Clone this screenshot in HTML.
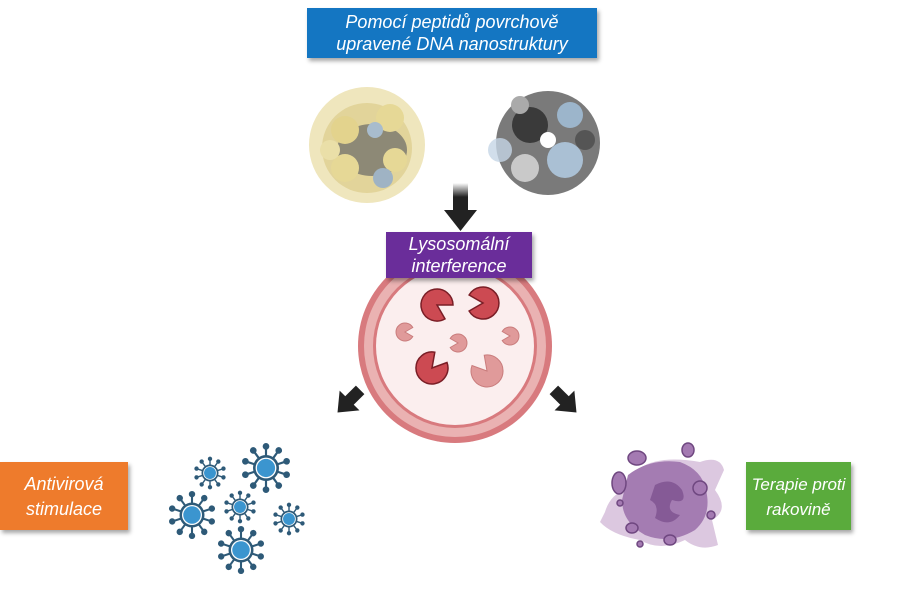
<!DOCTYPE html>
<html><head><meta charset="utf-8"><style>
body{margin:0;width:900px;height:599px;background:#fff;overflow:hidden;position:relative;font-family:"Liberation Sans",sans-serif}
.box{position:absolute;color:#fff;font-style:italic;text-align:center;line-height:22px;font-size:19px;box-shadow:2px 3px 4px rgba(0,0,0,.35)}
svg{position:absolute;left:0;top:0}
</style></head><body>
<svg width="900" height="599" viewBox="0 0 900 599">
<defs>
<symbol id="v" viewBox="-30 -30 60 60">
<g stroke="#2e5a78" stroke-width="2.5" fill="#2e5a78">
<g id="sp"><line x1="0" y1="-14" x2="0" y2="-24"/><circle cx="0" cy="-25" r="2.6"/></g>
<use href="#sp" transform="rotate(36)"/><use href="#sp" transform="rotate(72)"/><use href="#sp" transform="rotate(108)"/><use href="#sp" transform="rotate(144)"/><use href="#sp" transform="rotate(180)"/><use href="#sp" transform="rotate(216)"/><use href="#sp" transform="rotate(252)"/><use href="#sp" transform="rotate(288)"/><use href="#sp" transform="rotate(324)"/>
</g>
<circle r="15" fill="#2e5a78"/><circle r="12" fill="#fff"/><circle r="10.5" fill="#3b95cf"/>
</symbol>
<linearGradient id="ga" x1="0" y1="0" x2="0" y2="1"><stop offset="0" stop-color="#fff"/><stop offset=".5" stop-color="#222"/></linearGradient>
<g id="darr"><rect x="-6" y="-20" width="12" height="16" fill="#222"/><polygon points="-14,-5 14,-5 0,12" fill="#222"/></g>
</defs>
<!-- nanostructures -->
<g>
<circle cx="367" cy="145" r="58" fill="#efe6bd"/>
<circle cx="367" cy="148" r="45" fill="#e2d49a"/>
<ellipse cx="372" cy="150" rx="35" ry="26" fill="#6a6a66" opacity=".7"/>
<circle cx="345" cy="130" r="14" fill="#e3d38d"/>
<circle cx="390" cy="118" r="14" fill="#e6d896"/>
<circle cx="345" cy="168" r="14" fill="#e6d896"/>
<circle cx="395" cy="160" r="12" fill="#e6d896"/>
<circle cx="383" cy="178" r="10" fill="#9fb3c4"/>
<circle cx="375" cy="130" r="8" fill="#a8bccd"/>
<circle cx="330" cy="150" r="10" fill="#eadfa8"/>
<circle cx="548" cy="143" r="52" fill="#7a7a7a"/>
<circle cx="530" cy="125" r="18" fill="#3a3a3a"/>
<circle cx="565" cy="160" r="18" fill="#aac0d4"/>
<circle cx="525" cy="168" r="14" fill="#c9c9c9"/>
<circle cx="570" cy="115" r="13" fill="#9cb5cb"/>
<circle cx="500" cy="150" r="12" fill="#c5d6e6" opacity=".8"/>
<circle cx="548" cy="140" r="8" fill="#fff"/>
<circle cx="585" cy="140" r="10" fill="#555"/>
<circle cx="520" cy="105" r="9" fill="#aaa"/>
</g>
<!-- down arrow -->
<rect x="453" y="183" width="15" height="28" fill="url(#ga)"/>
<polygon points="444,210 477,210 460.5,231" fill="#222"/>
<!-- lysosome -->
<circle cx="455" cy="346" r="97" fill="#d87a7e"/>
<circle cx="455" cy="346" r="91" fill="#eab2b2"/>
<circle cx="455" cy="346" r="82" fill="#d87a7e"/>
<circle cx="455" cy="346" r="79" fill="#fbeeee"/>
<g stroke="#7a1e26" stroke-width="1.5" fill="#cc4a52">
<path d="M437,305 L453,305 A16,16 0 1 0 445,318.9 Z"/>
<path d="M483,303 L469.1,311 A16,16 0 1 0 469.1,295 Z"/>
<path d="M432,368 L434.8,352.2 A16,16 0 1 0 447,362.5 Z"/>
</g>
<g fill="#e09a9a" stroke="#c97c7c" stroke-width="1">
<path d="M487,371 L472,365.5 A16,16 0 1 0 484.2,355.2 Z"/>
<path d="M405,332 L412.8,327.5 A9,9 0 1 0 412.8,336.5 Z"/>
<path d="M458,343 L450.2,347.5 A9,9 0 1 0 450.2,338.5 Z"/>
<path d="M510,336 L502.2,340.5 A9,9 0 1 0 502.2,331.5 Z"/>
</g>
<!-- diagonal arrows -->
<use href="#darr" transform="translate(346,404) rotate(45)"/>
<use href="#darr" transform="translate(568,404) rotate(-45)"/>
<!-- viruses -->
<use href="#v" x="193" y="456" width="34" height="34"/>
<use href="#v" x="240" y="442" width="52" height="52"/>
<use href="#v" x="223" y="490" width="34" height="34"/>
<use href="#v" x="167" y="490" width="50" height="50"/>
<use href="#v" x="272" y="502" width="34" height="34"/>
<use href="#v" x="216" y="525" width="50" height="50"/>
<!-- cancer cell -->
<g>
<path d="M605,512 Q610,495 625,490 L640,468 Q660,455 700,462 Q720,455 724,470 L715,490 Q730,510 712,520 L718,545 Q700,552 685,540 Q660,552 640,540 Q612,535 600,522 Z" fill="#dcc8e0"/>
<path d="M628,475 Q650,458 680,462 Q702,470 706,490 Q712,515 695,530 Q670,545 645,535 Q622,522 622,500 Z" fill="#a47cb2"/>
<path d="M655,485 Q672,476 682,490 Q688,505 672,500 Q665,512 680,515 Q670,528 655,518 Q660,505 650,500 Z" fill="#855a96"/>
<g fill="#a47ab2" stroke="#6f4780" stroke-width="1.5">
<ellipse cx="637" cy="458" rx="9" ry="7"/><ellipse cx="688" cy="450" rx="6" ry="7"/><ellipse cx="619" cy="483" rx="7" ry="11"/><ellipse cx="700" cy="488" rx="7" ry="7"/><ellipse cx="632" cy="528" rx="6" ry="5"/><ellipse cx="670" cy="540" rx="6" ry="5"/><ellipse cx="711" cy="515" rx="4" ry="4"/><circle cx="640" cy="544" r="3"/><circle cx="620" cy="503" r="3"/>
</g>
</g>
</svg>
<div class="box" style="left:307px;top:8px;width:290px;height:50px;background:#1476c2;padding-top:3px;box-sizing:border-box;font-size:18px">Pomocí peptidů povrchově<br>upravené DNA nanostruktury</div>
<div class="box" style="left:386px;top:232px;width:146px;height:46px;background:#6a2d9a;padding-top:1px;box-sizing:border-box;font-size:18px">Lysosomální<br>interference</div>
<div class="box" style="left:0;top:462px;width:128px;height:68px;background:#ee7b2c;padding-top:10px;box-sizing:border-box;line-height:25px;font-size:18px">Antivirová<br>stimulace</div>
<div class="box" style="left:746px;top:462px;width:105px;height:68px;background:#5aab3c;padding-top:10px;box-sizing:border-box;line-height:25px;font-size:17px">Terapie proti<br>rakovině</div>
</body></html>
